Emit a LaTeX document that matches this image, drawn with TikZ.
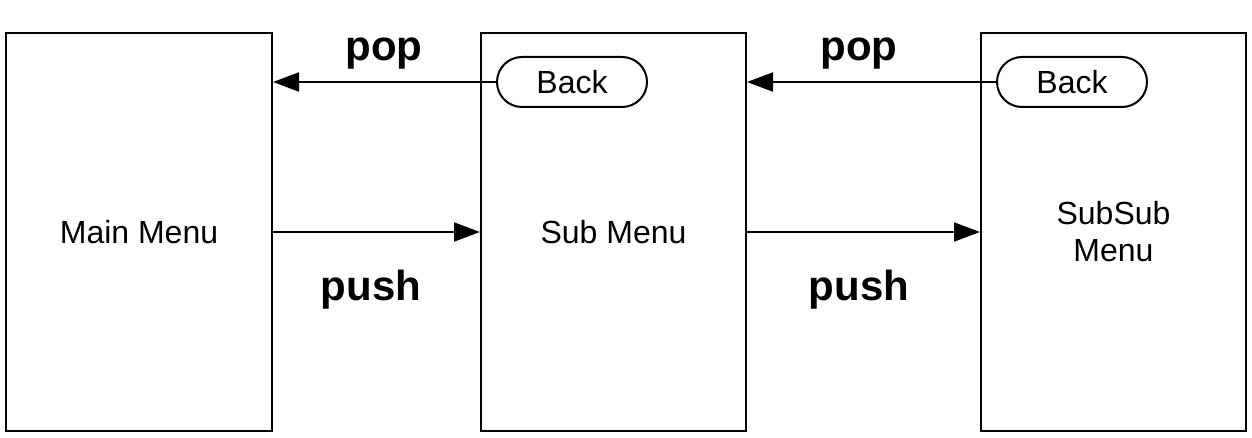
\documentclass[tikz,border=0pt]{standalone}
\usepackage{fontspec}
\setmainfont{Liberation Sans}
\usetikzlibrary{arrows.meta,shapes.misc}
\begin{document}
\begin{tikzpicture}[x=1pt,y=-1pt,
  screen/.style={draw,line width=2pt,minimum width=265pt,minimum height=398pt,inner sep=0pt,font=\fontsize{32}{37}\selectfont,align=center},
  backbtn/.style={draw,line width=2pt,rounded rectangle,minimum width=150pt,minimum height=50pt,inner sep=0pt,font=\fontsize{32}{37}\selectfont},
  lbl/.style={inner sep=0pt,font=\fontsize{42}{48}\selectfont\bfseries},
  arr/.style={line width=2pt,-{Triangle[length=26pt,width=19pt]}}]
\useasboundingbox (0,0) rectangle (1252,438);
\node[screen,minimum width=266pt] (main) at (139,232) {Main Menu};
\node[screen] (sub) at (613.5,232) {Sub Menu};
\node[screen] (subsub) at (1113.5,232) {SubSub\\Menu};
\node[backbtn] (back1) at (572,82) {Back};
\node[backbtn] (back2) at (1072,82) {Back};
\draw[arr] (back1.west) -- (main.east |- back1.west);
\draw[arr] (back2.west) -- (sub.east |- back2.west);
\draw[arr] (main.east) -- (sub.west);
\draw[arr] (sub.east) -- (subsub.west);
\node[lbl] (pop1) at (384,54) {pop};
\node[lbl] (pop2) at (859,54) {pop};
\node[lbl] (push1) at (371,290) {push};
\node[lbl] (push2) at (859,290) {push};
\end{tikzpicture}
\end{document}
